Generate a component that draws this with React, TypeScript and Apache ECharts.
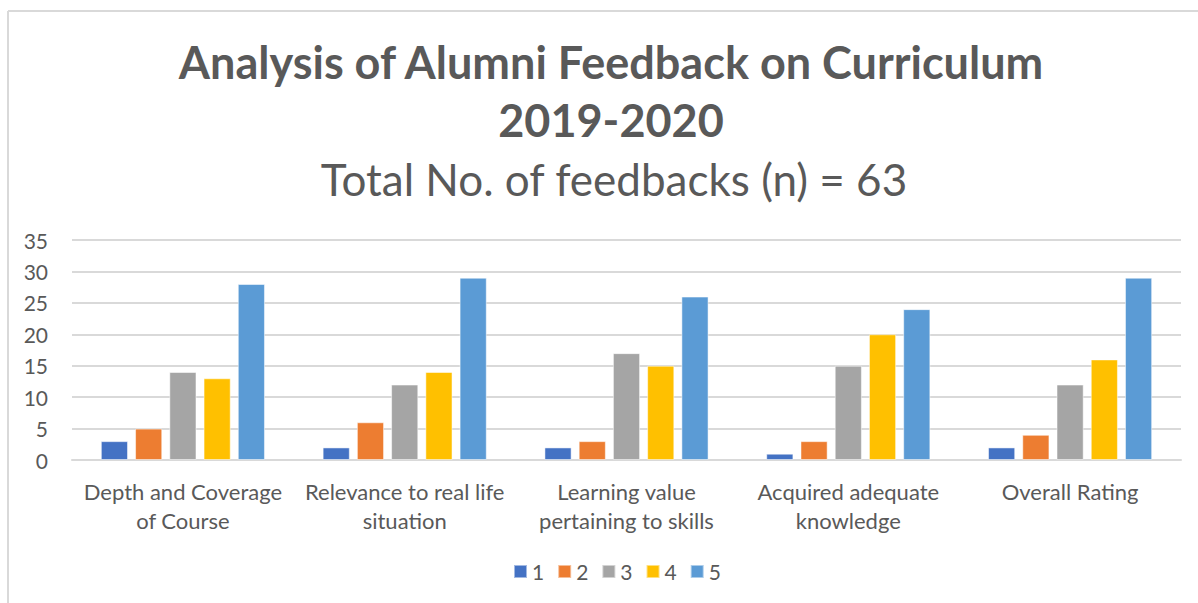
import React, { useEffect, useRef } from "react";
import * as echarts from "echarts";

const categories = [
  "Depth and Coverage\nof Course",
  "Relevance to real life\nsituation",
  "Learning value\npertaining to skills",
  "Acquired adequate\nknowledge",
  "Overall Rating",
];
const seriesNames = ["1", "2", "3", "4", "5"];
const rating1 = [3, 2, 2, 1, 2];
const rating2 = [5, 6, 3, 3, 4];
const rating3 = [14, 12, 17, 15, 12];
const rating4 = [13, 14, 15, 20, 16];
const rating5 = [28, 29, 26, 24, 29];
const colors = ["#4472C4", "#ED7D31", "#A5A5A5", "#FFC000", "#5B9BD5"];

const FONT = "Lato, 'Noto Sans', sans-serif";

export default function App() {
  const ref = useRef<HTMLDivElement>(null);
  useEffect(() => {
    if (!ref.current) return;
    const chart = echarts.init(ref.current, undefined, { renderer: "svg" });
    const values = [rating1, rating2, rating3, rating4, rating5];
    chart.setOption({
      animation: false,
      backgroundColor: "#ffffff",
      textStyle: { fontFamily: FONT },
      title: [
        {
          text: "Analysis of Alumni Feedback on Curriculum\n2019-2020",
          left: 606,
          textAlign: "center",
          top: 28,
          textStyle: {
            fontFamily: FONT,
            fontSize: 45,
            fontWeight: "bold",
            color: "#595959",
            lineHeight: 58,
          },
        },
        {
          text: "Total No. of feedbacks (n) = 63",
          left: 609,
          textAlign: "center",
          top: 152,
          textStyle: {
            fontFamily: FONT,
            fontSize: 44,
            fontWeight: "normal",
            color: "#595959",
          },
        },
      ],
      legend: {
        data: seriesNames,
        bottom: 16,
        left: 508,
        itemWidth: 13,
        itemHeight: 13,
        itemGap: 13,
        icon: "rect",
        textStyle: { fontFamily: FONT, fontSize: 21, color: "#595959" },
      },
      grid: { left: 72, right: 17, top: 240, bottom: 143, containLabel: false },
      xAxis: {
        type: "category",
        data: categories,
        axisLine: { lineStyle: { color: "#d9d9d9", width: 2 } },
        axisTick: { show: false },
        axisLabel: {
          fontFamily: FONT,
          fontSize: 22,
          color: "#595959",
          lineHeight: 29,
          margin: 17,
          interval: 0,
        },
      },
      yAxis: {
        type: "value",
        min: 0,
        max: 35,
        interval: 5,
        axisLine: { show: false },
        axisTick: { show: false },
        splitLine: { lineStyle: { color: "#d9d9d9", width: 2 } },
        axisLabel: {
          fontFamily: FONT,
          fontSize: 21,
          color: "#595959",
          margin: 24,
        },
      },
      series: seriesNames.map((name, i) => ({
        name,
        type: "bar",
        data: values[i],
        barGap: "26%",
        barCategoryGap: "26%",
        itemStyle: { color: colors[i], borderColor: "rgba(255,255,255,0.5)", borderWidth: 1 },
      })),
      graphic: [
        {
          type: "line",
          shape: { x1: 8, y1: 11, x2: 1198, y2: 11 },
          style: { stroke: "#d9d9d9", lineWidth: 2 },
        },
        {
          type: "line",
          shape: { x1: 8, y1: 11, x2: 8, y2: 603 },
          style: { stroke: "#d9d9d9", lineWidth: 2 },
        },
      ],
    });
    return () => chart.dispose();
  }, []);
  return (
    <div
      ref={ref}
      style={{ position: "fixed", left: 0, top: 0, width: 1198, height: 603 }}
    />
  );
}
